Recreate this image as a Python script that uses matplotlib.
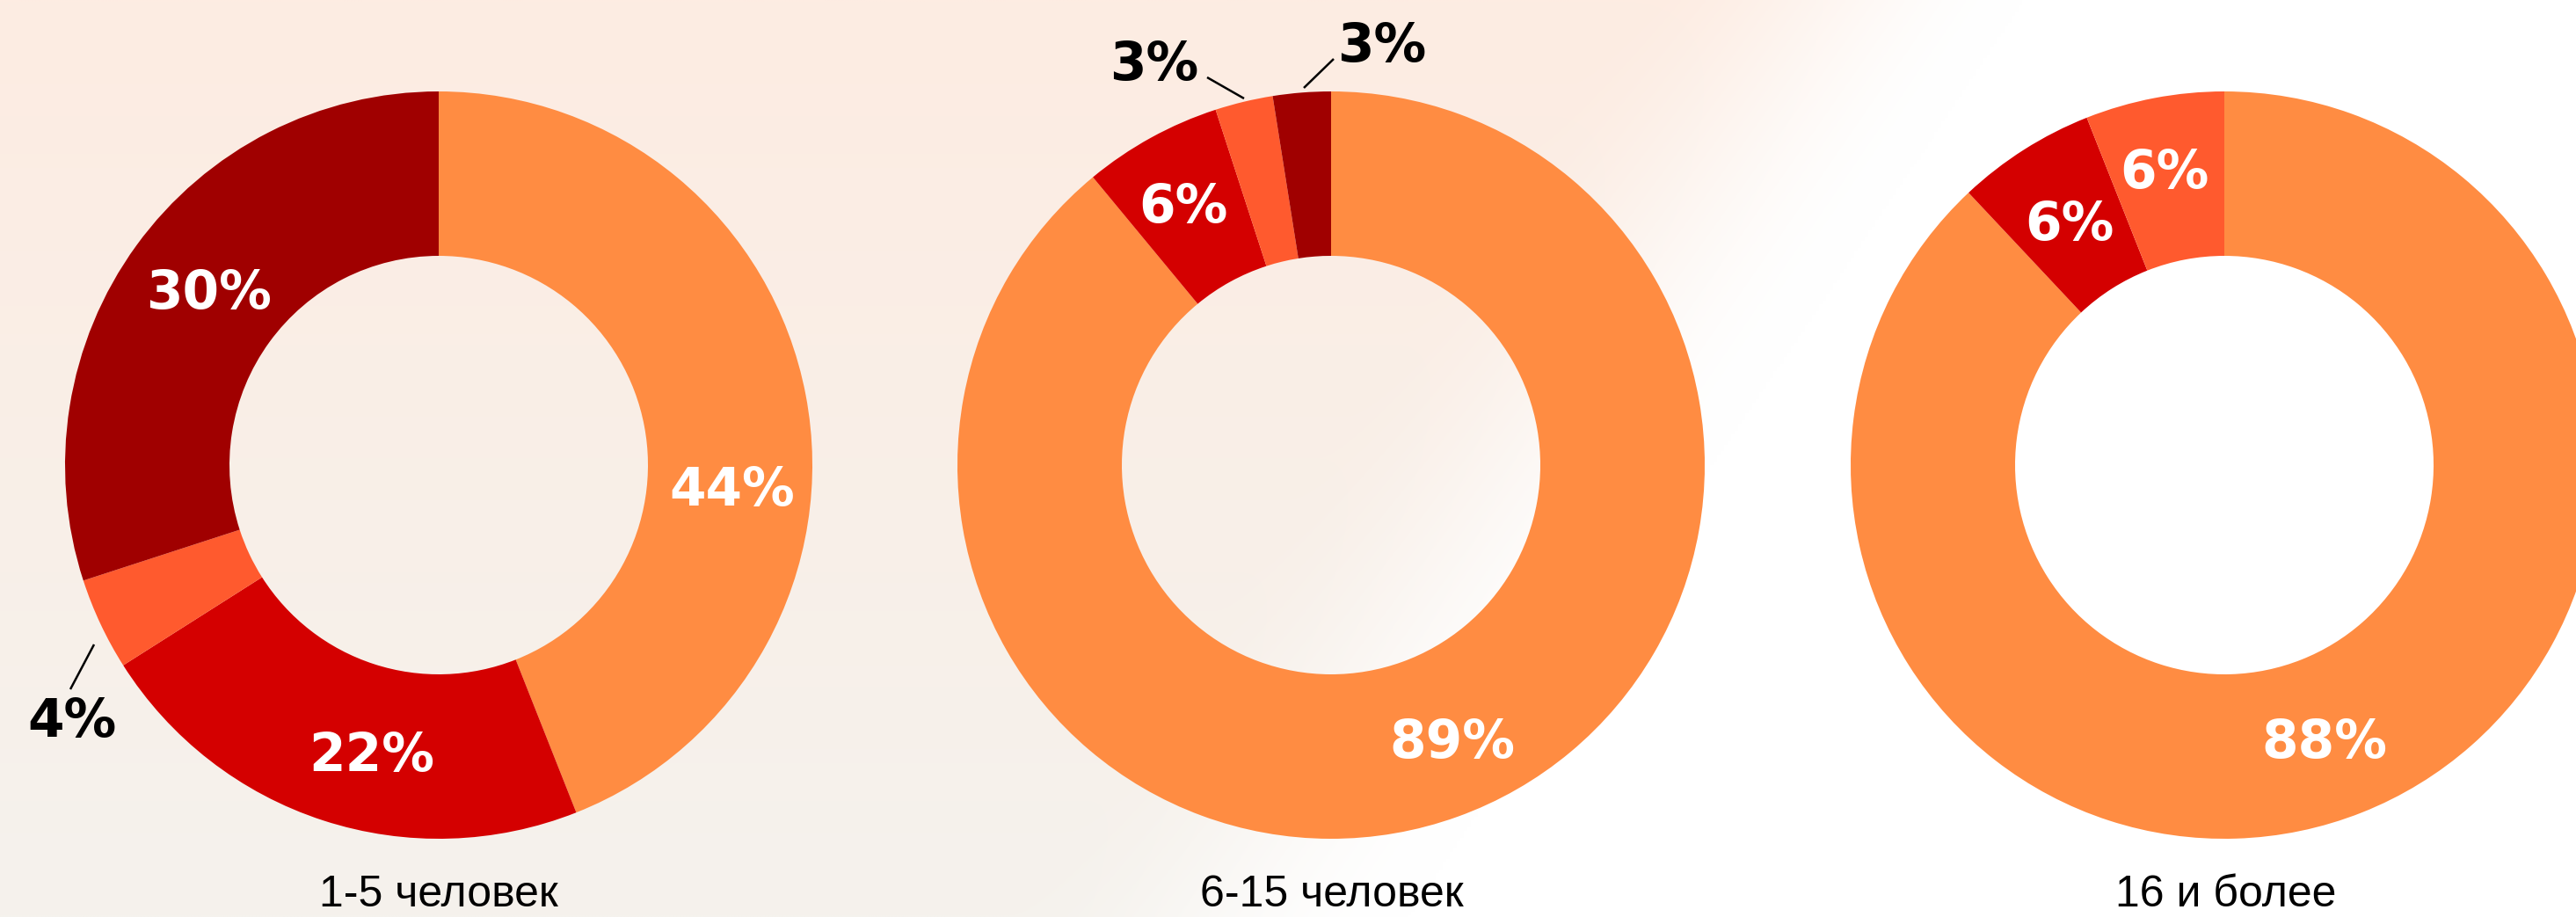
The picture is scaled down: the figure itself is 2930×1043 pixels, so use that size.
import numpy as np
import matplotlib
matplotlib.use("Agg")
import matplotlib.pyplot as plt

W, H = 2930, 1043

# ---------------- data ----------------
groups = ["1-5 человек", "6-15 человек", "16 и более"]

values_1_5 = [44, 22, 4, 30]
values_6_15 = [89, 6, 2.5, 2.5]
values_16 = [88, 6, 6]

labels_1_5 = ["44%", "22%", "4%", "30%"]
labels_6_15 = ["89%", "6%", "3%", "3%"]
labels_16 = ["88%", "6%", "6%"]

# ---------------- style ----------------
ORANGE, RED, ORED, DRED = "#FF8C42", "#D40000", "#FF5A2E", "#A00000"
colors_1_5 = [ORANGE, RED, ORED, DRED]
colors_6_15 = [ORANGE, RED, ORED, DRED]
colors_16 = [ORANGE, RED, ORED]

# layout (pixels, origin top-left)
centers = [(499, 529), (1514, 529), (2530, 529)]
R_OUT, R_IN = 425, 238
# label anchor: (center x, baseline y, text colour)
label_pos = [
    [(833, 575, "white"), (423, 877, "white"), (82, 838, "black"), (238, 351, "white")],
    [(1652, 862, "white"), (1346, 253, "white"), (1313, 91, "black"), (1572, 70, "black")],
    [(2644, 862, "white"), (2354, 273, "white"), (2462, 214, "white")],
]
leaders = [((80, 784), (107, 733)), ((1373, 88), (1415, 112)), ((1517, 67), (1483, 100))]
title_pos = [(499, 1031), (1515, 1031), (2532, 1031)]

fig = plt.figure(figsize=(W / 100, H / 100), dpi=100)
ax = fig.add_axes([0, 0, 1, 1])

# ---------------- background gradient ----------------
h, w = 261, 733
yy, xx = np.mgrid[0:h, 0:w]
yp = yy / (h - 1)
xp = xx / (w - 1) * W
top = np.array([253, 236, 226]) / 255.0
bot = np.array([245, 242, 237]) / 255.0
base = top[None, None, :] * (1 - yp[..., None]) + bot[None, None, :] * yp[..., None]
start = 1850 - 700 * yp
fade = np.clip((xp - start) / 450.0, 0, 1)
fade = fade * fade * (3 - 2 * fade)
img = base * (1 - fade[..., None]) + np.ones(3)[None, None, :] * fade[..., None]
ax.imshow(img, extent=(0, W, 0, H), origin="upper", interpolation="bilinear", zorder=0)

# ---------------- donuts ----------------
all_vals = [values_1_5, values_6_15, values_16]
all_cols = [colors_1_5, colors_6_15, colors_16]
all_labs = [labels_1_5, labels_6_15, labels_16]
for (cx, cy), vals, cols in zip(centers, all_vals, all_cols):
    wedges, _ = ax.pie(vals, colors=cols, startangle=90, counterclock=False,
                       radius=R_OUT, center=(cx, H - cy),
                       wedgeprops=dict(width=R_OUT - R_IN, linewidth=0))
    for wdg in wedges:
        wdg.set_zorder(2)

for labs, poss in zip(all_labs, label_pos):
    for lab, (x, yb, c) in zip(labs, poss):
        ax.text(x, H - yb, lab, ha="center", va="baseline", color=c,
                fontsize=43, fontweight="bold", family="DejaVu Sans", zorder=5)

for (x0, y0), (x1, y1) in leaders:
    ax.plot([x0, x1], [H - y0, H - y1], color="black", lw=1.8, zorder=5,
            solid_capstyle="butt")

for g, (x, yb) in zip(groups, title_pos):
    ax.text(x, H - yb, g, ha="center", va="baseline", color="black",
            fontsize=36, family=["Liberation Sans", "DejaVu Sans"], zorder=5)

ax.set_xlim(0, W)
ax.set_ylim(0, H)
ax.set_aspect("auto")
ax.axis("off")

fig.savefig("out.png", dpi=100)
